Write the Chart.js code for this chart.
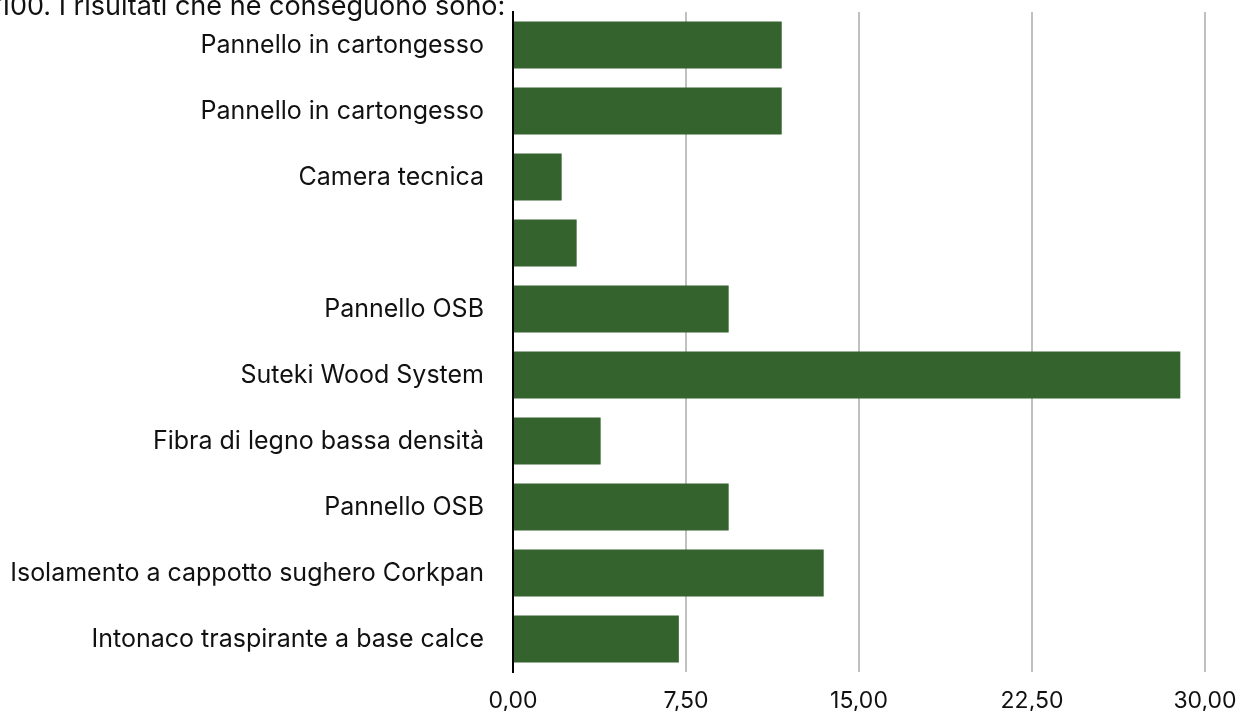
<!DOCTYPE html>
<html>
<head>
<meta charset="utf-8">
<script src="https://cdn.jsdelivr.net/npm/chart.js@4.4.0/dist/chart.umd.min.js"></script>
<style>
  html, body { margin: 0; padding: 0; background: #fff; overflow: hidden; }
  #wrap { position: relative; width: 1250px; height: 711px; }
  #title { position: absolute; left: -1px; top: -8px; font: 27px/27px Inter, "Liberation Sans", sans-serif; color: #111; white-space: nowrap; }
  canvas { position: absolute; left: 0; top: 0; }
</style>
</head>
<body>
<div id="wrap">
  <canvas id="chart1" width="1250" height="711"></canvas>
  <div id="title">100. I risultati che ne conseguono sono:</div>
</div>
<script>
var labels = [
    "Pannello in cartongesso",
    "Pannello in cartongesso",
    "Camera tecnica",
    "",
    "Pannello OSB",
    "Suteki Wood System",
    "Fibra di legno bassa densità",
    "Pannello OSB",
    "Isolamento a cappotto sughero Corkpan",
    "Intonaco traspirante a base calce"
];
var values = [11.65, 11.65, 2.11, 2.76, 9.35, 28.93, 3.80, 9.35, 13.47, 7.19];
var xTicks = [0, 7.5, 15, 22.5, 30];

var ctx_chart1 = document.getElementById("chart1").getContext("2d");
var chart1 = new Chart(ctx_chart1, {
    type: "bar",
    data: {
        labels: labels,
        datasets: [{
            data: values,
            backgroundColor: "#34632E",
            borderWidth: 0,
            barPercentage: 0.71,
            categoryPercentage: 1
        }]
    },
    options: {
        indexAxis: "y",
        responsive: false,
        animation: false,
        layout: { padding: { top: 12, right: 45, left: 0, bottom: 0 } },
        plugins: {
            legend: { display: false },
            tooltip: { enabled: false }
        },
        scales: {
            x: {
                min: 0,
                max: 30,
                afterBuildTicks: function (scale) {
                    scale.ticks = xTicks.map(function (v) { return { value: v }; });
                },
                afterFit: function (scale) {
                    scale.height = 39;
                    scale.paddingLeft = 0;
                    scale.paddingRight = 0;
                },
                grid: { color: "#c0c0c0", lineWidth: 2, drawTicks: false },
                border: { display: false },
                ticks: {
                    padding: 15,
                    color: "#111",
                    font: { family: "Inter", size: 23 },
                    maxRotation: 0,
                    callback: function (v) { return Number(v).toFixed(2).replace(".", ","); }
                }
            },
            y: {
                afterFit: function (scale) {
                    scale.width = 513;
                    scale.paddingTop = 0;
                    scale.paddingBottom = 0;
                },
                grid: { display: false, drawTicks: false },
                border: { display: true, color: "#000", width: 2 },
                ticks: {
                    padding: 29,
                    color: "#111",
                    font: { family: "Inter", size: 25 }
                }
            }
        }
    }
});
</script>
</body>
</html>
